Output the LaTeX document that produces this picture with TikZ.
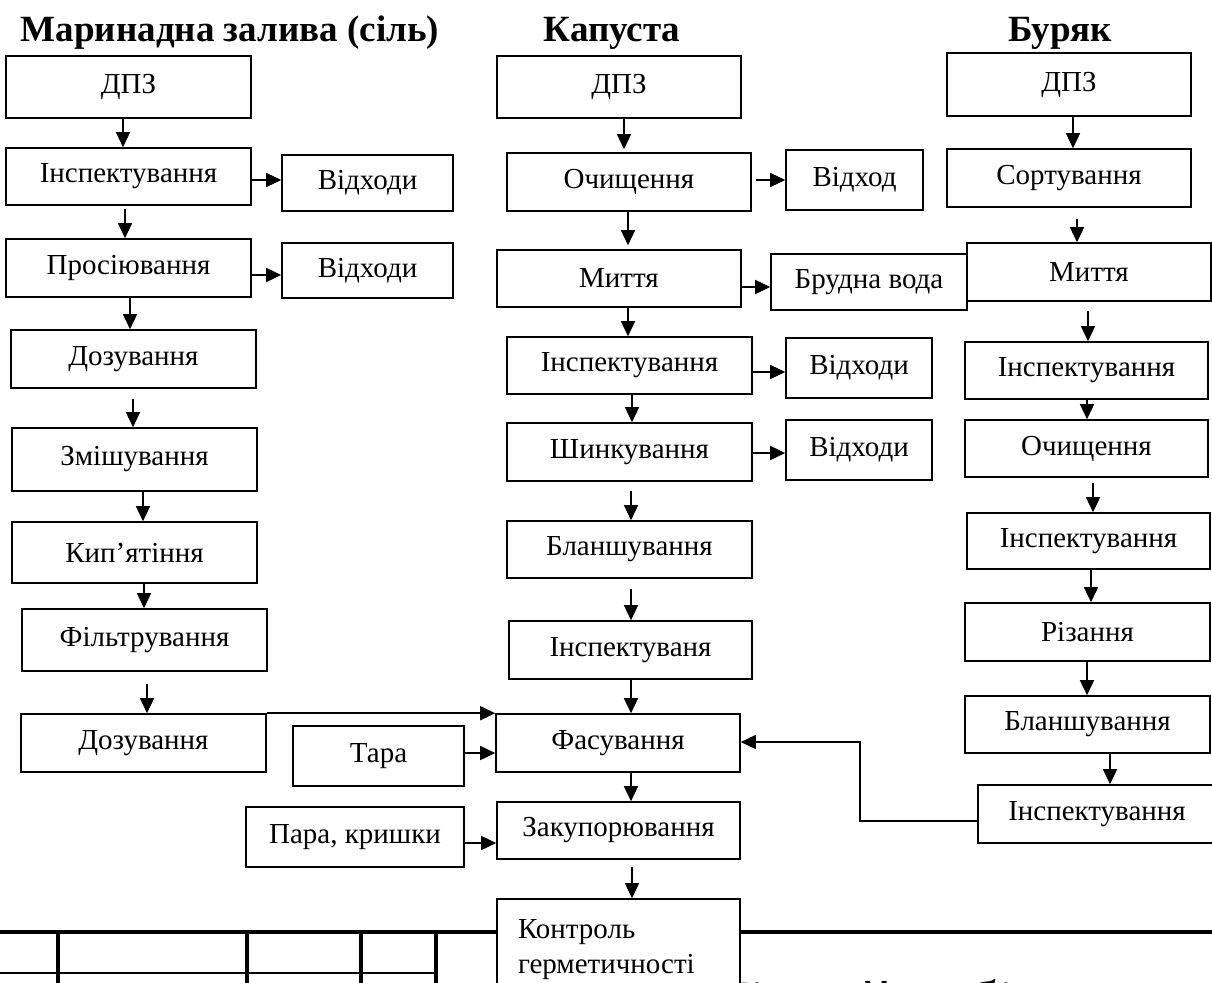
\documentclass[tikz,border=0pt]{standalone}
\usepackage{fontspec}
\setmainfont{Liberation Serif}
\usetikzlibrary{arrows.meta}
\tikzset{
  box/.style={draw, line width=1.6pt, fill=white, inner sep=0pt, font=\fontsize{29}{35}\selectfont},
  arr/.style={line width=1.5pt, -{Triangle[length=15pt,width=14pt]}},
  thick frame/.style={line width=4pt},
  thin frame/.style={line width=2pt},
  ttl/.style={font=\fontsize{37}{40}\selectfont\bfseries, anchor=base, inner sep=0pt},
}
\newcommand\mybox[6]{\node[box, minimum width={(#4)-(#2)}, minimum height={(#5)-(#3)}] (#1) at ({((#2)+(#4))/2},{((#3)+(#5))/2}) {#6};}
\begin{document}
\begin{tikzpicture}[x=1pt,y=-1pt]
\useasboundingbox (0,0) rectangle (1212,982);
% titles
\node[ttl] (t1) at (230,42) {Маринадна залива (сіль)};
\node[ttl] (t2) at (612,42) {Капуста};
\node[ttl] (t3) at (1060,42) {Буряк};
% bottom frame
\draw[thick frame] (0,932) -- (497,932);
\draw[thick frame] (740,932) -- (1212,932);
\foreach \xx in {58,247,361,436} \draw[thick frame] (\xx,932) -- (\xx,990);
\draw[thin frame] (0,973) -- (436,973);
\node[anchor=base west, inner sep=0pt, font=\fontsize{60}{60}\selectfont] (bt) at (706,1022) {Нічний вибір};
% left column
\mybox{L1}{6}{56}{251}{118}{ДПЗ}
\mybox{L2}{6}{148}{251}{205}{Інспектування}
\mybox{LW1}{282}{155}{453}{211}{Відходи}
\mybox{L3}{6}{239}{251}{297}{Просіювання}
\mybox{LW2}{282}{243}{453}{298}{Відходи}
\mybox{L4}{11}{330}{256}{388}{Дозування}
\mybox{L5}{12}{428}{257}{491}{Змішування}
\mybox{L6}{12}{522}{257}{583}{Кип’ятіння}
\mybox{L7}{22}{609}{267}{671}{Фільтрування}
\mybox{L8}{21}{714}{266}{772}{Дозування}
\mybox{T}{293}{726}{464}{786}{Тара}
\mybox{P}{246}{807}{464}{867}{Пара, кришки}
% middle column
\mybox{M1}{497}{56}{741}{118}{ДПЗ}
\mybox{M2}{507}{153}{751}{211}{Очищення}
\mybox{MW1}{786}{150}{923}{210}{Відход}
\mybox{M3}{497}{250}{741}{307}{Миття}
\mybox{MW2}{771}{254}{967}{310}{Брудна вода}
\mybox{M4}{507}{337}{752}{394}{Інспектування}
\mybox{MW3}{786}{338}{932}{398}{Відходи}
\mybox{M5}{507}{423}{752}{481}{Шинкування}
\mybox{MW4}{786}{420}{932}{480}{Відходи}
\mybox{M6}{507}{521}{752}{578}{Бланшування}
\mybox{M7}{509}{621}{752}{679}{Інспектуваня}
\mybox{M8}{496}{714}{740}{772}{Фасування}
\mybox{M9}{497}{802}{740}{859}{Закупорювання}
\node[box, minimum width=243, minimum height=102, align=left, text width=201pt, inner xsep=21pt] (M10) at (618.5,950) {Контроль\\герметичності};
% right column
\mybox{R1}{947}{53}{1191}{116}{ДПЗ}
\mybox{R2}{947}{149}{1191}{207}{Сортування}
\mybox{R3}{967}{243}{1211}{301}{Миття}
\mybox{R4}{965}{342}{1208}{399}{Інспектування}
\mybox{R5}{965}{420}{1208}{477}{Очищення}
\mybox{R6}{967}{513}{1210}{569}{Інспектування}
\mybox{R7}{965}{603}{1210}{661}{Різання}
\mybox{R8}{965}{696}{1210}{753}{Бланшування}
\mybox{R9}{978}{785}{1216}{843}{Інспектування}
% left arrows
\draw[arr] (L1.south -| 123,0) -- (L2.north -| 123,0);
\draw[arr] ([yshift=-3pt]L2.south -| 125,0) -- (L3.north -| 125,0);
\draw[arr] (L3.south -| 130,0) -- (L4.north -| 130,0);
\draw[arr] ([yshift=-10pt]L4.south -| 133,0) -- (L5.north -| 133,0);
\draw[arr] (L5.south -| 143,0) -- (L6.north -| 143,0);
\draw[arr] (L6.south -| 144,0) -- (L7.north -| 144,0);
\draw[arr] ([yshift=-12pt]L7.south -| 147,0) -- (L8.north -| 147,0);
\draw[arr] (L2.east |- 0,180) -- (LW1.west |- 0,180);
\draw[arr] (L3.east |- 0,275) -- (LW2.west |- 0,275);
\draw[arr] (L8.north east) -- (M8.north west);
\draw[arr] (T.east |- 0,753) -- (M8.west |- 0,753);
\draw[arr] (P.east |- 0,843) -- (M9.west |- 0,843);
% middle arrows
\draw[arr] (M1.south -| 624,0) -- ([yshift=3pt]M2.north -| 624,0);
\draw[arr] (M2.south -| 628,0) -- ([yshift=4pt]M3.north -| 628,0);
\draw[arr] ([xshift=4pt]M2.east |- 0,180) -- (MW1.west |- 0,180);
\draw[arr] (M3.east |- 0,287) -- (MW2.west |- 0,287);
\draw[arr] (M3.south -| 628,0) -- (M4.north -| 628,0);
\draw[arr] (M4.east |- 0,372) -- (MW3.west |- 0,372);
\draw[arr] (M4.south -| 632,0) -- (M5.north -| 632,0);
\draw[arr] (M5.east |- 0,453) -- (MW4.west |- 0,453);
\draw[arr] ([yshift=-9pt]M5.south -| 631,0) -- (M6.north -| 631,0);
\draw[arr] ([yshift=-10pt]M6.south -| 631,0) -- (M7.north -| 631,0);
\draw[arr] (M7.south -| 631,0) -- (M8.north -| 631,0);
\draw[arr] (M8.south -| 631,0) -- (M9.north -| 631,0);
\draw[arr] ([yshift=-7pt]M9.south -| 632,0) -- (M10.north -| 632,0);
% right arrows
\draw[arr] (R1.south -| 1073,0) -- (R2.north -| 1073,0);
\draw[arr] ([yshift=-11pt]R2.south -| 1077,0) -- (R3.north -| 1077,0);
\draw[arr] ([yshift=-9pt]R3.south -| 1088,0) -- (R4.north -| 1088,0);
\draw[arr] (R4.south -| 1087,0) -- (R5.north -| 1087,0);
\draw[arr] ([yshift=-5pt]R5.south -| 1093,0) -- (R6.north -| 1093,0);
\draw[arr] (R6.south -| 1091,0) -- (R7.north -| 1091,0);
\draw[arr] (R7.south -| 1087,0) -- (R8.north -| 1087,0);
\draw[arr] (R8.south -| 1110,0) -- (R9.north -| 1110,0);
\coordinate (c1) at (860,821);
\coordinate (c2) at (860,742);
\draw[arr] (R9.west |- c1) -- (c1) -- (c2) -- (M8.east |- c2);
\end{tikzpicture}
\end{document}
